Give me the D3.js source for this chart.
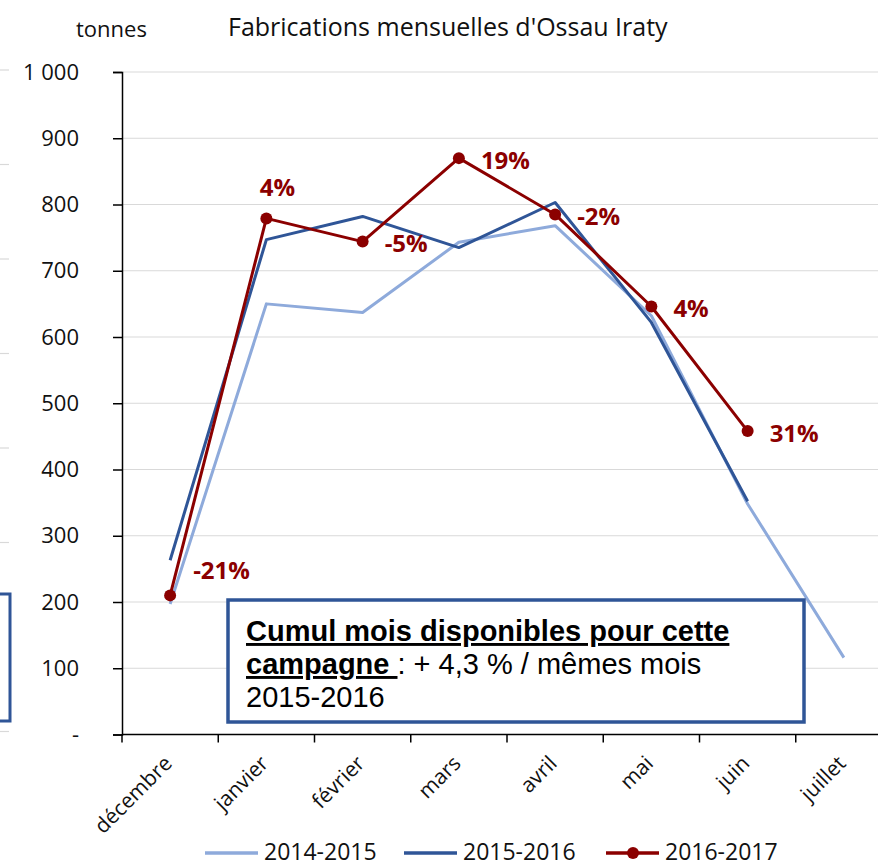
<!DOCTYPE html>
<html>
<head>
<meta charset="utf-8">
<script src="https://cdn.jsdelivr.net/npm/d3@7"></script>
<style>
  html, body { margin: 0; padding: 0; background: #fff; }
  svg { display: block; overflow: hidden; }
</style>
</head>
<body>
<div id="chart"></div>
<script>
// Chart values
const months = ["décembre", "janvier", "février", "mars", "avril", "mai", "juin", "juillet"];
const series2014 = [197, 650, 637, 743, 768, 632, 348, 116];
const series2015 = [263, 747, 782, 735, 803, 622, 352];
const series2016 = [210, 779, 744, 870, 785, 646, 458];
const variations = ["-21%", "4%", "-5%", "19%", "-2%", "4%", "31%"];
const labelPlacement = ["topright", "top", "right", "right", "right", "right", "right"];
const yTicks = [0, 100, 200, 300, 400, 500, 600, 700, 800, 900, 1000];
const seriesNames = ["2014-2015", "2015-2016", "2016-2017"];

const colors = { light: "#8eaadb", dark: "#2f5597", red: "#8b0000" };
const W = 878, H = 866;

const svg = d3.select("#chart").append("svg")
  .attr("width", W)
  .attr("height", H);

// scales (plot runs past the right edge, as in the picture)
const x = d3.scaleBand().domain(months).range([122, 892]);
const y = d3.scaleLinear().domain([0, 1000]).range([734.5, 72]);
const cx = m => x(m) + x.bandwidth() / 2;

// bits of the neighbouring chart peeking in on the left
const ghost = d3.scaleLinear().domain([0, 7]).range([70, 731.5]);
svg.append("g").selectAll("line")
  .data(d3.range(8))
  .join("line")
  .attr("x1", 0).attr("x2", 9)
  .attr("y1", d => ghost(d)).attr("y2", d => ghost(d))
  .attr("stroke", "#d9d9d9").attr("stroke-width", 1.2);
svg.append("rect")
  .attr("x", -20).attr("y", 594).attr("width", 30).attr("height", 127)
  .attr("fill", "#fff").attr("stroke", colors.dark).attr("stroke-width", 3);

// gridlines
svg.append("g").selectAll("line")
  .data(yTicks.filter(d => d > 0))
  .join("line")
  .attr("x1", 122).attr("x2", W)
  .attr("y1", d => y(d)).attr("y2", d => y(d))
  .attr("stroke", "#d9d9d9").attr("stroke-width", 1.2);

// y axis
const yAxis = svg.append("g")
  .attr("transform", "translate(122,0)")
  .call(d3.axisLeft(y).tickValues(yTicks).tickSize(9).tickPadding(34)
    .tickFormat(d => d === 0 ? "-" : d3.format(",")(d).replace(",", " ")));
yAxis.select(".domain").attr("stroke", "#000").attr("stroke-width", 1.5);
yAxis.selectAll(".tick line").attr("stroke", "#000").attr("stroke-width", 1.5);
yAxis.selectAll("text")
  .style("font-family", "'Open Sans', sans-serif")
  .style("font-size", "22px")
  .attr("fill", "#111");

// x axis (ticks between categories)
const xAxisG = svg.append("g").attr("transform", "translate(0,734.5)");
xAxisG.append("line")
  .attr("x1", 122).attr("x2", W)
  .attr("stroke", "#000").attr("stroke-width", 1.5);
xAxisG.selectAll(".xtick")
  .data(months)
  .join("line")
  .attr("class", "xtick")
  .attr("x1", d => x(d)).attr("x2", d => x(d))
  .attr("y1", 0).attr("y2", 8)
  .attr("stroke", "#000").attr("stroke-width", 1.5);
xAxisG.selectAll(".xlabel")
  .data(months)
  .join("text")
  .attr("class", "xlabel")
  .attr("transform", d => `translate(${cx(d) - 2},${25}) rotate(-45)`)
  .attr("text-anchor", "end")
  .attr("dy", "0.35em")
  .style("font-family", "'Open Sans', sans-serif")
  .style("font-size", "21px")
  .attr("fill", "#111")
  .text(d => d);

// lines
const line = d3.line()
  .x((d, i) => cx(months[i]))
  .y(d => y(d));

[[series2014, colors.light], [series2015, colors.dark], [series2016, colors.red]].forEach(([vals, col]) => {
  svg.append("path")
    .datum(vals)
    .attr("fill", "none")
    .attr("stroke", col)
    .attr("stroke-width", 3)
    .attr("stroke-linejoin", "round")
    .attr("d", line);
});

// markers for 2016-2017
svg.append("g").selectAll("circle")
  .data(series2016)
  .join("circle")
  .attr("cx", (d, i) => cx(months[i]))
  .attr("cy", d => y(d))
  .attr("r", 6)
  .attr("fill", colors.red);

// variation labels
const placeOffset = {
  right: { dx: 22, dy: 2, anchor: "start" },
  top: { dx: 11, dy: -31, anchor: "middle" },
  topright: { dx: 23, dy: -25, anchor: "start" }
};
svg.append("g").selectAll("text")
  .data(variations)
  .join("text")
  .attr("x", (d, i) => cx(months[i]) + placeOffset[labelPlacement[i]].dx)
  .attr("y", (d, i) => y(series2016[i]) + placeOffset[labelPlacement[i]].dy)
  .attr("dy", "0.36em")
  .attr("text-anchor", (d, i) => placeOffset[labelPlacement[i]].anchor)
  .style("font-family", "'Open Sans', sans-serif")
  .style("font-size", "24px")
  .style("font-weight", "bold")
  .attr("fill", colors.red)
  .text(d => d);

// title + unit
svg.append("text")
  .attr("x", 76).attr("y", 37)
  .style("font-family", "'Open Sans', sans-serif")
  .style("font-size", "22px")
  .attr("fill", "#111")
  .text("tonnes");
svg.append("text")
  .attr("x", 228).attr("y", 36)
  .style("font-family", "'Open Sans', sans-serif")
  .style("font-size", "25px")
  .attr("fill", "#111")
  .text("Fabrications mensuelles d'Ossau Iraty");

// annotation box
svg.append("rect")
  .attr("x", 228).attr("y", 600).attr("width", 576).attr("height", 122)
  .attr("fill", "#fff")
  .attr("stroke", colors.dark)
  .attr("stroke-width", 3.5);
const note = svg.append("text")
  .style("font-family", "'Liberation Sans', Arial, sans-serif")
  .style("font-size", "29px")
  .style("white-space", "pre")
  .attr("fill", "#000");
note.append("tspan")
  .attr("x", 246).attr("y", 641)
  .style("font-weight", "bold")
  .style("text-decoration", "underline")
  .text("Cumul mois disponibles pour cette");
note.append("tspan")
  .attr("x", 246).attr("y", 674)
  .style("font-weight", "bold")
  .style("text-decoration", "underline")
  .text("campagne ");
note.append("tspan")
  .text(": + 4,3 % / mêmes mois");
note.append("tspan")
  .attr("x", 246).attr("y", 707)
  .text("2015-2016");

// legend
const legendX = [205, 404, 606];
const legend = svg.append("g").selectAll("g")
  .data(seriesNames)
  .join("g")
  .attr("transform", (d, i) => `translate(${legendX[i]},853)`);
legend.append("line")
  .attr("x1", 0).attr("x2", 53)
  .attr("stroke", (d, i) => [colors.light, colors.dark, colors.red][i])
  .attr("stroke-width", 3.5);
legend.filter((d, i) => i === 2).append("circle")
  .attr("cx", 27).attr("r", 6).attr("fill", colors.red);
legend.append("text")
  .attr("x", 59).attr("y", 7)
  .style("font-family", "'Open Sans', sans-serif")
  .style("font-size", "23px")
  .attr("fill", "#111")
  .text(d => d);
</script>
</body>
</html>
